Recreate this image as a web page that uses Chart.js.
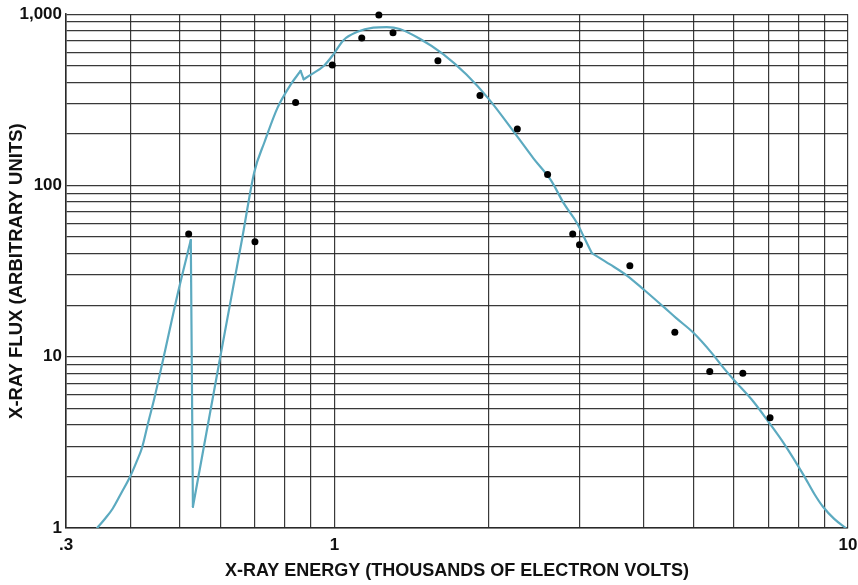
<!DOCTYPE html>
<html>
<head>
<meta charset="utf-8">
<script src="https://cdn.jsdelivr.net/npm/chart.js@4"></script>
<style>
  html, body { margin: 0; padding: 0; background: #ffffff; }
  #wrap { width: 858px; height: 585px; }
</style>
</head>
<body>
<div id="wrap"><canvas id="c" width="858" height="585"></canvas></div>
<script>
// ---- data ----
const curveX = [0.345,0.358,0.37,0.384,0.40,0.411,0.422,0.434,0.446,0.465,0.496,0.525,0.53,0.60,0.661,0.698,0.731,0.774,0.822,0.859,0.871,0.90,0.954,0.996,1.04,1.105,1.19,1.264,1.34,1.466,1.628,1.807,2.0,2.25,2.44,2.64,2.80,2.97,3.06,3.17,3.44,3.71,4.0,4.37,4.63,5.0,5.43,5.67,6.0,6.54,7.0,7.51,8.2,8.6,8.94,9.4,9.9];
const curveY = [1.0,1.14,1.3,1.59,2.0,2.41,2.95,4.16,5.74,10,23.9,48,1.33,10.2,49,120,180,283,389,467,417,444,500,585,703,786,834,840,820,719,585,444,318,200,144,107,78,60,50,40.3,34.6,29.8,24.7,19.6,16.8,13.8,10.5,8.9,7.3,5.48,4.17,3.1,2.03,1.58,1.33,1.13,1.0];
// indices of the curve's sharp corners (absorption edges)
const curveCorners = [11, 12, 19, 20, 39];

const dotX = [0.52,0.70,0.84,0.99,1.13,1.22,1.30,1.59,1.92,2.27,2.60,2.91,3.0,3.76,4.6,5.38,6.24,7.05];
const dotY = [52,47,305,505,725,990,780,535,335,214,116,52,45,34,13.9,8.2,8.0,4.4];

// grid (tick) positions and labels
const xGridValues = [0.3,0.4,0.5,0.6,0.7,0.8,0.9,1,2,3,4,5,6,7,8,9,10];
const yGridValues = [1,2,3,4,5,6,7,8,9,10,20,30,40,50,60,70,80,90,100,200,300,400,500,600,700,800,900,1000];
const xLabelValues = [0.3, 1, 10];
const xLabelTexts = ['.3', '1', '10'];
const yLabelValues = [1, 10, 100, 1000];
const yLabelTexts = ['1', '10', '100', '1,000'];

const xTitle = 'X-RAY ENERGY (THOUSANDS OF ELECTRON VOLTS)';
const yTitle = 'X-RAY FLUX (ARBITRARY UNITS)';

const FONT = "'Liberation Sans', Arial, Helvetica, sans-serif";
const GRID = 'rgba(40,40,40,0.92)';
const CURVE = 'rgb(92,170,192)';

const curveData = curveX.map((x, i) => ({ x: x, y: curveY[i] }));
const dotData = dotX.map((x, i) => ({ x: x, y: dotY[i] }));

// split the curve at its corners so smoothing keeps the corners sharp
const cuts = [0].concat(curveCorners, [curveData.length - 1]);
const curveSets = [];
for (let s = 0; s < cuts.length - 1; s++) {
  curveSets.push({
    label: 'model',
    data: curveData.slice(cuts[s], cuts[s + 1] + 1),
    borderColor: CURVE,
    borderWidth: 2.2,
    pointRadius: 0,
    fill: false,
    cubicInterpolationMode: 'monotone',
    borderCapStyle: 'round',
    borderJoinStyle: 'round',
    order: 1
  });
}

new Chart(document.getElementById('c'), {
  type: 'line',
  data: {
    datasets: [
      {
        label: 'measured',
        data: dotData,
        showLine: false,
        pointRadius: 3.5,
        pointHoverRadius: 3.5,
        pointBackgroundColor: '#000000',
        pointBorderColor: '#000000',
        pointBorderWidth: 0,
        clip: false,
        order: 0
      }
    ].concat(curveSets)
  },
  options: {
    responsive: false,
    animation: false,
    devicePixelRatio: 1,
    layout: { padding: { left: 0, right: 10, top: 14, bottom: 0 } },
    plugins: { legend: { display: false }, tooltip: { enabled: false } },
    scales: {
      x: {
        type: 'logarithmic',
        min: 0.3,
        max: 10,
        afterBuildTicks: (axis) => { axis.ticks = xGridValues.map(v => ({ value: v })); },
        afterFit: (axis) => { axis.height = 57; axis.paddingRight = 0; axis.paddingLeft = 0; },
        grid: { color: GRID, lineWidth: 1.2, drawTicks: false },
        border: { color: GRID, width: 1.4 },
        ticks: {
          autoSkip: false,
          maxRotation: 0,
          padding: 7,
          color: '#111',
          font: { family: FONT, size: 17, weight: 'bold' },
          callback: (v) => { const k = xLabelValues.indexOf(v); return k >= 0 ? xLabelTexts[k] : ''; }
        },
        title: {
          display: true,
          text: xTitle,
          color: '#111',
          font: { family: FONT, size: 18, weight: 'bold' },
          padding: { top: 3, bottom: 3 }
        }
      },
      y: {
        type: 'logarithmic',
        min: 1,
        max: 1000,
        afterBuildTicks: (axis) => { axis.ticks = yGridValues.map(v => ({ value: v })); },
        afterFit: (axis) => { axis.width = 66; },
        grid: { color: GRID, lineWidth: 1.2, drawTicks: false },
        border: { color: GRID, width: 1.6 },
        ticks: {
          autoSkip: false,
          padding: 4,
          color: '#111',
          font: { family: FONT, size: 17, weight: 'bold' },
          callback: (v) => { const k = yLabelValues.indexOf(v); return k >= 0 ? yLabelTexts[k] : ''; }
        },
        title: {
          display: true,
          text: yTitle,
          color: '#111',
          font: { family: FONT, size: 18.5, weight: 'bold' },
          padding: { top: 6, bottom: 4 }
        }
      }
    }
  }
});
</script>
</body>
</html>
